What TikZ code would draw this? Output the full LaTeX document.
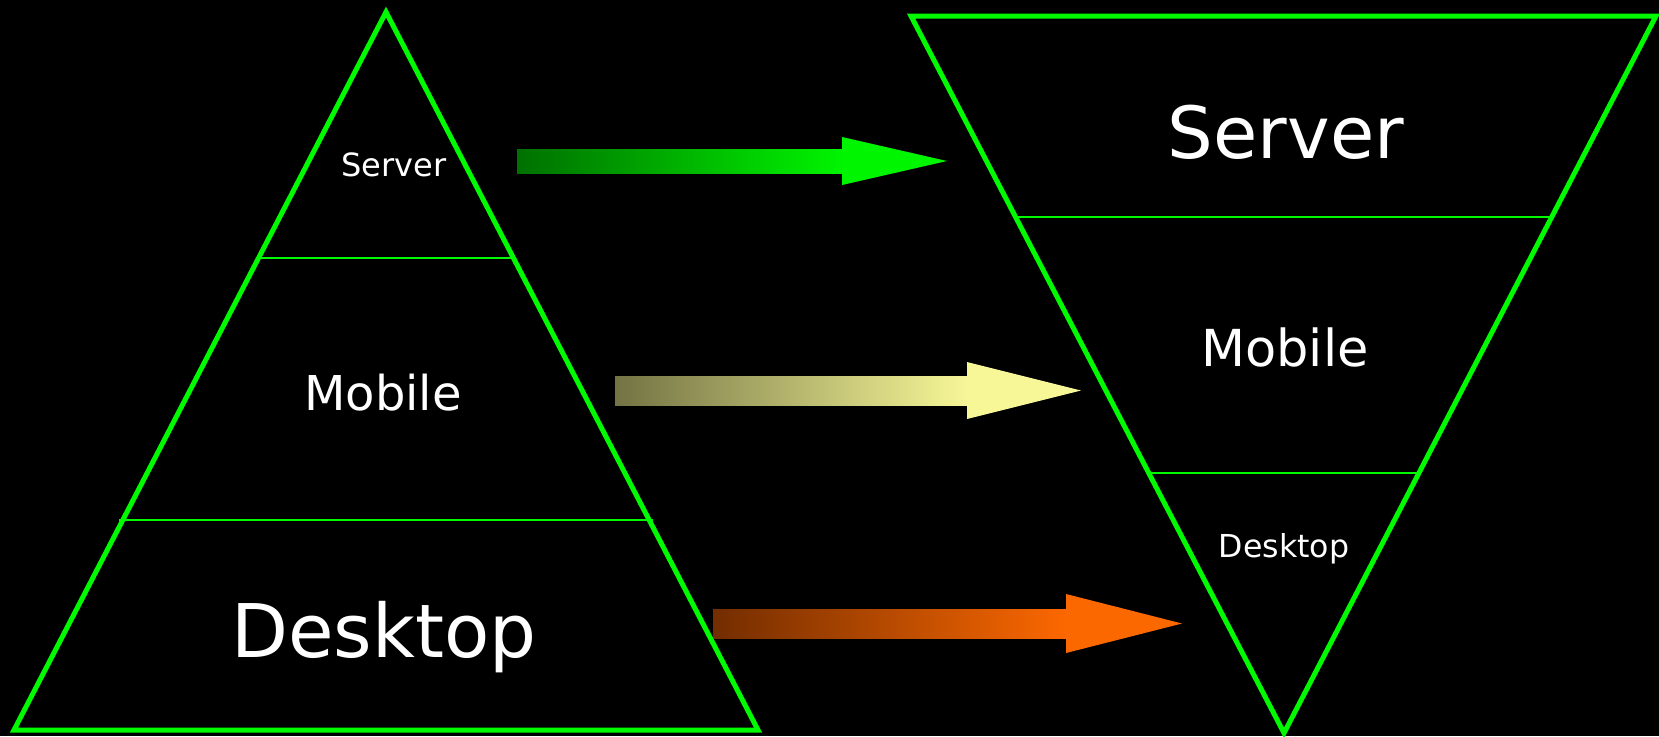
\documentclass[tikz,border=0pt]{standalone}
\usepackage{fontspec}
\setmainfont{DejaVu Sans}
\begin{document}
\begin{tikzpicture}[x=0.5pt,y=-0.5pt,
  outline/.style={draw=green, line width=2.5pt, line join=miter},
  divider/.style={draw=green, line width=1.25pt},
  lbl/.style={text=white, anchor=base, inner sep=0pt}]
\definecolor{green}{RGB}{0,250,0}
\definecolor{gA}{RGB}{0,112,0}
\definecolor{gB}{RGB}{0,245,0}
\definecolor{yA}{RGB}{115,115,68}
\definecolor{yB}{RGB}{247,247,152}
\definecolor{oA}{RGB}{115,45,0}
\definecolor{oB}{RGB}{252,104,0}
\fill[black] (0,0) rectangle (1659,736);
\useasboundingbox (0,0) rectangle (1659,736);
% left pyramid
\draw[outline] (386,12) -- (758,730) -- (14,730) -- cycle;
\draw[divider] (256,258) -- (515,258);
\draw[divider] (119,520) -- (653,520);
% right inverted pyramid
\draw[outline] (911,16) -- (1656,16) -- (1284,733) -- cycle;
\draw[divider] (1016,217) -- (1551,217);
\draw[divider] (1150,473) -- (1417,473);
% labels
\node[lbl, font=\fontsize{16pt}{17pt}\selectfont] (ls) at (394,176) {Server};
\node[lbl, font=\fontsize{24pt}{26pt}\selectfont] (lm) at (383,410) {Mobile};
\node[lbl, font=\fontsize{37pt}{40pt}\selectfont] (ld) at (384,657) {Desktop};
\node[lbl, font=\fontsize{36pt}{38pt}\selectfont] (rs) at (1286,158) {Server};
\node[lbl, font=\fontsize{25.5pt}{27pt}\selectfont] (rm) at (1285,366) {Mobile};
\node[lbl, font=\fontsize{15.8pt}{17pt}\selectfont] (rd) at (1284,557) {Desktop};
% arrows: shaded shaft + solid head
\shade[left color=gA, right color=gB] (517,149) rectangle (843,173);
\fill[gB] (842,137) -- (947,161) -- (842,185) -- cycle;
\shade[left color=yA, right color=yB] (615,376) rectangle (968,405);
\fill[yB] (967,362) -- (1081,390.5) -- (967,419) -- cycle;
\shade[left color=oA, right color=oB] (713,609) rectangle (1067,638);
\fill[oB] (1066,594) -- (1182,623.5) -- (1066,653) -- cycle;
\end{tikzpicture}
\end{document}
